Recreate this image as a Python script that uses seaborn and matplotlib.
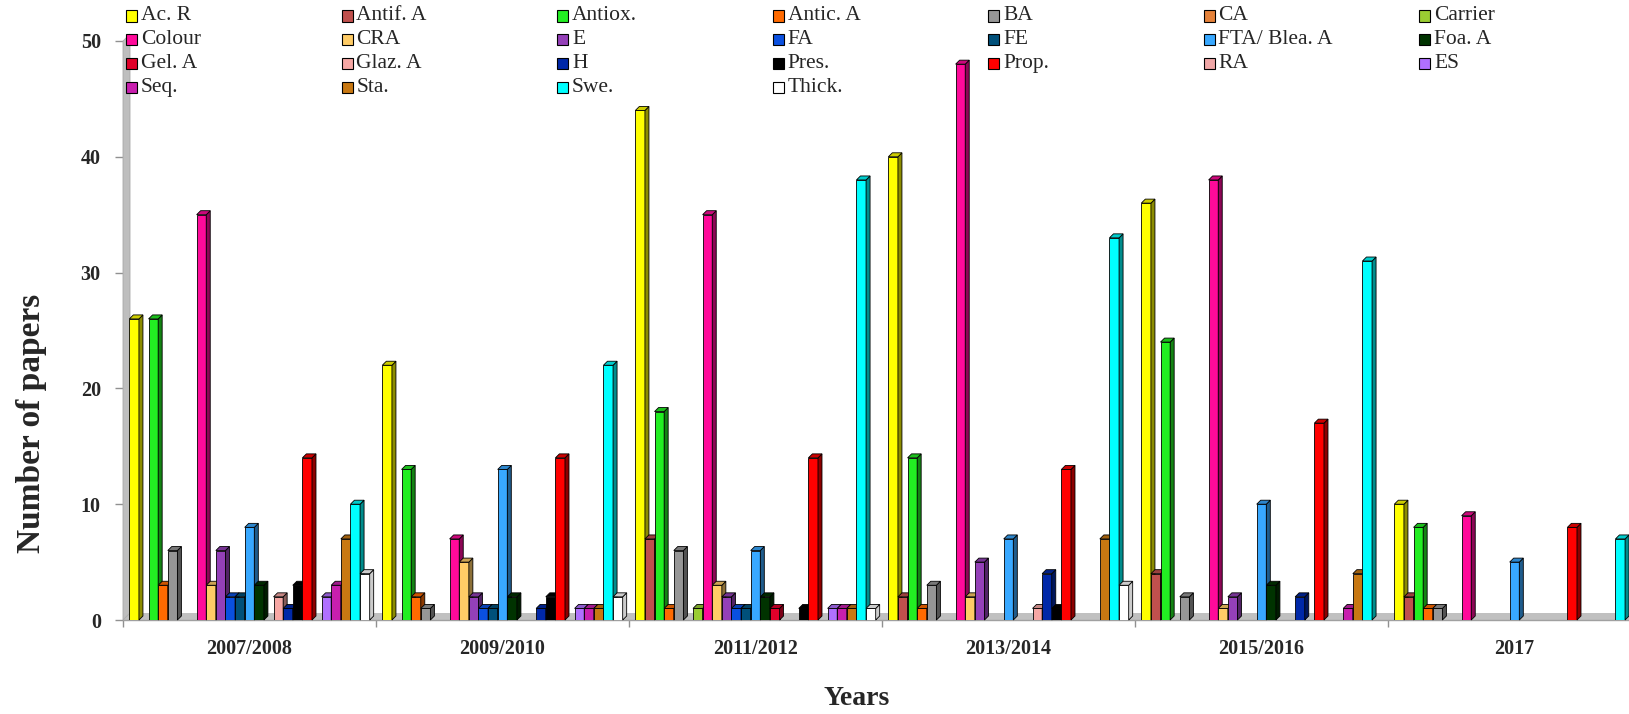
import numpy as np
import pandas as pd
import matplotlib
matplotlib.use("Agg")
import matplotlib.pyplot as plt
import matplotlib.colors as mcolors
from matplotlib.patches import Polygon, Rectangle
import seaborn as sns

years = ["2007/2008", "2009/2010", "2011/2012", "2013/2014", "2015/2016", "2017"]

categories = ["Ac. R", "Antif. A", "Antiox.", "Antic. A", "BA", "CA", "Carrier",
              "Colour", "CRA", "E", "FA", "FE", "FTA/ Blea. A", "Foa. A",
              "Gel. A", "Glaz. A", "H", "Pres.", "Prop.", "RA", "ES",
              "Seq.", "Sta.", "Swe.", "Thick."]

colors = ["#FFFF00", "#C0504D", "#22EE22", "#FF6A00", "#969696", "#E5823A", "#9ACD32",
          "#FF0A9A", "#FFCC66", "#9440B8", "#0A50E0", "#00507A", "#38A8FF", "#003300",
          "#E0002A", "#F6A7A4", "#0028A8", "#000000", "#FF0000", "#F0A7A7", "#B070FF",
          "#C81FAE", "#C87812", "#00FFFF", "#FFFFFF"]

# papers per category, in the order of `categories`
papers_2007_2008 = [26, 0, 26, 3, 6, 0, 0, 35, 3, 6, 2, 2, 8, 3, 0, 2, 1, 3, 14, 0, 2, 3, 7, 10, 4]
papers_2009_2010 = [22, 0, 13, 2, 1, 0, 0, 7, 5, 2, 1, 1, 13, 2, 0, 0, 1, 2, 14, 0, 1, 1, 1, 22, 2]
papers_2011_2012 = [44, 7, 18, 1, 6, 0, 1, 35, 3, 2, 1, 1, 6, 2, 1, 0, 0, 1, 14, 0, 1, 1, 1, 38, 1]
papers_2013_2014 = [40, 2, 14, 1, 3, 0, 0, 48, 2, 5, 0, 0, 7, 0, 0, 1, 4, 1, 13, 0, 0, 0, 7, 33, 3]
papers_2015_2016 = [36, 4, 24, 0, 2, 0, 0, 38, 1, 2, 0, 0, 10, 3, 0, 0, 2, 0, 17, 0, 0, 1, 4, 31, 0]
papers_2017 = [10, 2, 8, 1, 1, 0, 0, 9, 0, 0, 0, 0, 5, 0, 0, 0, 0, 0, 8, 0, 0, 0, 0, 7, 0]

yticks = [0, 10, 20, 30, 40, 50]

series = [papers_2007_2008, papers_2009_2010, papers_2011_2012,
          papers_2013_2014, papers_2015_2016, papers_2017]
df = pd.DataFrame([
    {"year": y, "category": c, "papers": v}
    for y, vals in zip(years, series)
    for c, v in zip(categories, vals)
])

sns.set_theme(style="white")
plt.rcParams["font.family"] = ["Liberation Serif", "DejaVu Serif"]

W, H = 1629, 714
fig = plt.figure(figsize=(W / 100, H / 100), dpi=100)
ax = fig.add_axes([123 / W, (H - 620) / H, 1518 / W, 579 / H])

sns.barplot(data=df, x="year", y="papers", hue="category", order=years,
            hue_order=categories, palette=colors, width=0.95, gap=0,
            saturation=1, edgecolor="black", linewidth=0.6, errorbar=None,
            legend=False, ax=ax)

ax.set_xlim(-0.5, 5.5)
ax.set_ylim(0, 50)

# pixel -> data conversion for the pseudo-3D depth
ux = 6.0 / 1518
uy = 50.0 / 579
dx, dy = 4 * ux, 4 * uy


def shade(c, f):
    r, g, b = mcolors.to_rgb(c)[:3]
    return (r * f, g * f, b * f)


bars = sorted([p for p in ax.patches], key=lambda p: p.get_x())
for i, p in enumerate(bars):
    h = p.get_height()
    if not h or np.isnan(h):
        p.set_visible(False)
        continue
    z = 3 + i * 0.01
    p.set_zorder(z)
    x0, w = p.get_x(), p.get_width()
    fc = p.get_facecolor()
    side_f = 0.55 if mcolors.to_rgb(fc) != (1.0, 1.0, 1.0) else 0.8
    side = Polygon([(x0 + w, 0), (x0 + w + dx, dy), (x0 + w + dx, h + dy), (x0 + w, h)],
                   closed=True, facecolor=shade(fc, side_f), edgecolor="black",
                   linewidth=0.6, zorder=z + 0.001, clip_on=False)
    top = Polygon([(x0, h), (x0 + dx, h + dy), (x0 + w + dx, h + dy), (x0 + w, h)],
                  closed=True, facecolor=shade(fc, 0.8), edgecolor="black",
                  linewidth=0.6, zorder=z + 0.002, clip_on=False)
    ax.add_patch(side)
    ax.add_patch(top)

# floor and left wall of the 3-D frame
fdx, fdy = 7 * ux, 7 * uy
ax.add_patch(Polygon([(-0.5, 0), (5.6, 0), (5.6, fdy), (-0.5 + fdx, fdy)],
                     closed=True, facecolor="#C0C0C0", edgecolor="none",
                     zorder=1, clip_on=False))
ax.add_patch(Polygon([(-0.5, 0), (-0.5 + fdx, fdy), (-0.5 + fdx, 50 + fdy), (-0.5, 50)],
                     closed=True, facecolor="#BEBEBE", edgecolor="#A8A8A8",
                     linewidth=0.6, zorder=1, clip_on=False))

for s in ["top", "right", "left"]:
    ax.spines[s].set_visible(False)
ax.spines["bottom"].set_color("#A0A0A0")
ax.spines["bottom"].set_linewidth(1.0)
ax.spines["bottom"].set_zorder(2)

ax.set_yticks(yticks)
ax.set_yticklabels([str(t) for t in yticks], fontsize=14.5, fontweight="bold")
ax.tick_params(axis="y", which="major", left=True, length=6, width=1,
               color="#909090", pad=10)

ax.set_xticks(range(len(years)))
ax.set_xticklabels(years, fontsize=14.5, fontweight="bold")
ax.set_xticks(np.arange(-0.5, 6.0, 1.0), minor=True)
ax.tick_params(axis="x", which="major", bottom=False, length=0, pad=14)
ax.tick_params(axis="x", which="minor", bottom=True, length=5, width=1,
               color="#909090")

ax.set_xlabel("Years", fontsize=20, fontweight="bold")
ax.xaxis.set_label_coords((857 - 123) / 1518, (620 - 686) / 579)
ax.set_ylabel("Number of papers", fontsize=24, fontweight="bold")
ax.yaxis.set_label_coords((47 - 123) / 1518, (620 - 423) / 579)

# legend: 7 evenly spaced columns across the top
col_x0, col_pitch = 126, 215.5
row_y0, row_pitch = 16, 23.7
sw = 11
for i, (cat, col) in enumerate(zip(categories, colors)):
    r, c = divmod(i, 7)
    xl = col_x0 + c * col_pitch
    yc = row_y0 + r * row_pitch
    fig.patches.append(Rectangle((xl / W, (H - yc - sw / 2) / H), sw / W, sw / H,
                                 transform=fig.transFigure, facecolor=col,
                                 edgecolor="black", linewidth=0.8, zorder=10))
    fig.text((xl + sw + 4) / W, (H - yc) / H, cat, fontsize=15.5,
             va="center", ha="left", zorder=10)

fig.savefig("out.png", dpi=100)
